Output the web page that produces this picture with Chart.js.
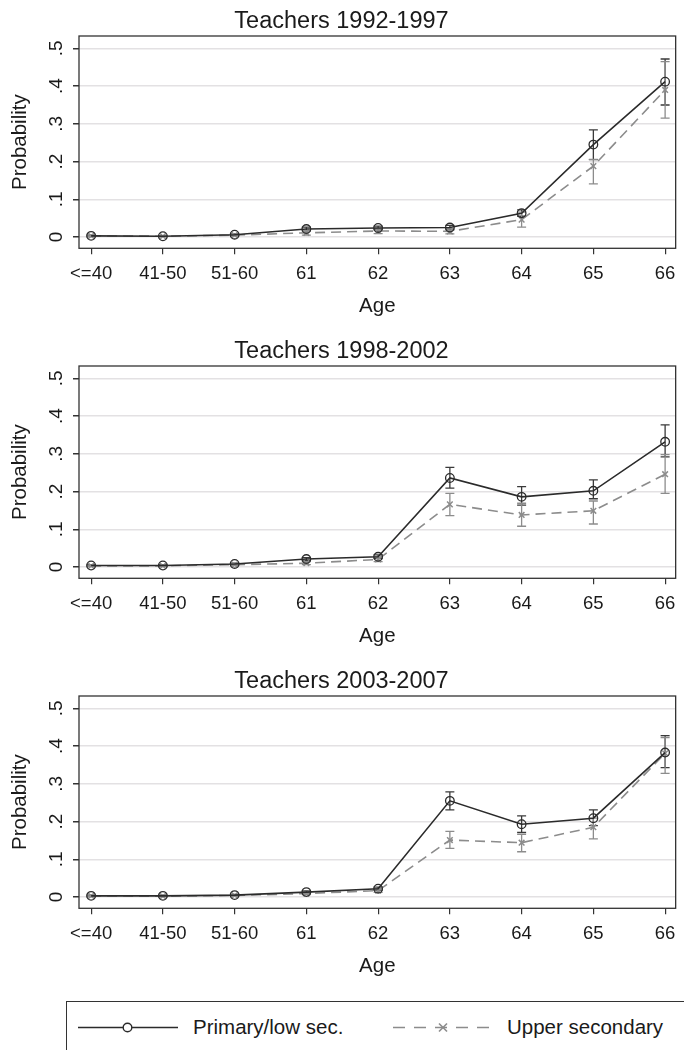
<!DOCTYPE html>
<html>
<head>
<meta charset="utf-8">
<script src="https://cdn.jsdelivr.net/npm/chart.js@4"></script>
<style>
  html, body { margin: 0; padding: 0; background: #fff; overflow: hidden; }
  body { width: 684px; height: 1050px; position: relative; font-family: "Liberation Sans", Arial, sans-serif; }
  .panel { position: absolute; left: 0; width: 684px; height: 330px; }
  #legend {
    position: absolute; left: 66px; top: 1001px; width: 680px; height: 70px;
    border-top: 1.6px solid #333; border-left: 1.6px solid #333; box-sizing: border-box;
  }
  #legend svg { position: absolute; left: 0; top: 0; }
  #legend span {
    position: absolute; top: 13px; font-size: 20.5px; line-height: 24px; color: #1a1a1a; white-space: nowrap;
  }
</style>
</head>
<body>
<canvas id="c1" class="panel" style="top:0px" width="684" height="330"></canvas>
<canvas id="c2" class="panel" style="top:330px" width="684" height="330"></canvas>
<canvas id="c3" class="panel" style="top:660px" width="684" height="330"></canvas>

<div id="legend">
  <svg width="620" height="60">
    <line x1="11" y1="25.5" x2="111" y2="25.5" stroke="#2b2b2b" stroke-width="1.7"/>
    <circle cx="60.5" cy="25.5" r="4.3" fill="#fff" stroke="#2b2b2b" stroke-width="1.4"/>
    <line x1="326" y1="25.5" x2="426" y2="25.5" stroke="#8c8c8c" stroke-width="1.7" stroke-dasharray="12,9"/>
    <line x1="372" y1="21.5" x2="380" y2="29.5" stroke="#8c8c8c" stroke-width="1.6"/>
    <line x1="372" y1="29.5" x2="380" y2="21.5" stroke="#8c8c8c" stroke-width="1.6"/>
  </svg>
  <span style="left:126px">Primary/low sec.</span>
  <span style="left:440px">Upper secondary</span>
</div>

<script>
// Age groups on the horizontal axis
const ageLabels = ['<=40', '41-50', '51-60', '61', '62', '63', '64', '65', '66'];
// Probability gridlines and their labels
const yTickValues = [0, 0.1, 0.2, 0.3, 0.4, 0.5];
const yTickLabels = ['0', '.1', '.2', '.3', '.4', '.5'];

// Teachers 1992-1997
const p1Primary   = [0.003, 0.002, 0.006, 0.021, 0.024, 0.025, 0.063, 0.245, 0.412];
const p1PrimaryLo = [0.001, 0.001, 0.004, 0.016, 0.019, 0.019, 0.055, 0.205, 0.350];
const p1PrimaryHi = [0.005, 0.003, 0.008, 0.026, 0.029, 0.031, 0.072, 0.284, 0.472];
const p1Upper     = [0.003, 0.002, 0.005, 0.011, 0.016, 0.015, 0.046, 0.188, 0.390];
const p1UpperLo   = [0.001, 0.001, 0.003, 0.005, 0.009, 0.008, 0.026, 0.141, 0.315];
const p1UpperHi   = [0.005, 0.003, 0.007, 0.017, 0.023, 0.022, 0.066, 0.206, 0.465];

// Teachers 1998-2002
const p2Primary   = [0.004, 0.004, 0.008, 0.021, 0.027, 0.236, 0.186, 0.202, 0.332];
const p2PrimaryLo = [0.002, 0.002, 0.006, 0.017, 0.022, 0.209, 0.164, 0.181, 0.292];
const p2PrimaryHi = [0.006, 0.006, 0.010, 0.025, 0.032, 0.264, 0.213, 0.231, 0.377];
const p2Upper     = [0.003, 0.003, 0.006, 0.010, 0.020, 0.166, 0.138, 0.149, 0.246];
const p2UpperLo   = [0.001, 0.001, 0.004, 0.006, 0.014, 0.136, 0.108, 0.114, 0.195];
const p2UpperHi   = [0.005, 0.005, 0.008, 0.014, 0.026, 0.195, 0.169, 0.175, 0.298];

// Teachers 2003-2007
const p3Primary   = [0.003, 0.003, 0.005, 0.013, 0.022, 0.255, 0.193, 0.209, 0.383];
const p3PrimaryLo = [0.001, 0.001, 0.003, 0.010, 0.018, 0.231, 0.171, 0.189, 0.343];
const p3PrimaryHi = [0.005, 0.005, 0.007, 0.016, 0.026, 0.279, 0.215, 0.231, 0.428];
const p3Upper     = [0.003, 0.002, 0.004, 0.009, 0.017, 0.151, 0.144, 0.185, 0.381];
const p3UpperLo   = [0.001, 0.001, 0.002, 0.006, 0.012, 0.129, 0.120, 0.154, 0.328];
const p3UpperHi   = [0.005, 0.003, 0.006, 0.012, 0.022, 0.174, 0.166, 0.209, 0.423];

const FONT = '"Liberation Sans", Arial, sans-serif';
const TEXT = '#1a1a1a';
const DARK = '#2b2b2b';
const GREY = '#8c8c8c';

// Vertical confidence intervals with caps, placed through the chart's scales
const errorBars = {
  id: 'errorBars',
  beforeDatasetsDraw(chart) {
    const { ctx, scales: { x, y } } = chart;
    ctx.save();
    chart.data.datasets.forEach(ds => {
      if (!ds.lo) return;
      ctx.strokeStyle = ds.errColor;
      ctx.lineWidth = 1.3;
      ds.lo.forEach((lo, i) => {
        const px = x.getPixelForValue(i);
        const y1 = y.getPixelForValue(lo);
        const y2 = y.getPixelForValue(ds.hi[i]);
        ctx.beginPath();
        ctx.moveTo(px, y1); ctx.lineTo(px, y2);
        ctx.moveTo(px - 4.5, y1); ctx.lineTo(px + 4.5, y1);
        ctx.moveTo(px - 4.5, y2); ctx.lineTo(px + 4.5, y2);
        ctx.stroke();
      });
    });
    ctx.restore();
  }
};

// Box around the plot region and rotated probability labels
const frameAndLabels = {
  id: 'frameAndLabels',
  afterDraw(chart) {
    const { ctx, chartArea: a, scales: { y } } = chart;
    ctx.save();
    ctx.strokeStyle = '#333';
    ctx.lineWidth = 1.3;
    ctx.strokeRect(a.left, a.top, a.right - a.left, a.bottom - a.top);
    ctx.fillStyle = TEXT;
    ctx.font = '19px ' + FONT;
    ctx.textAlign = 'center';
    ctx.textBaseline = 'middle';
    y.ticks.forEach(t => {
      const idx = yTickValues.indexOf(t.value);
      const py = y.getPixelForValue(t.value);
      ctx.save();
      ctx.translate(57, py);
      ctx.rotate(-Math.PI / 2);
      ctx.fillText(yTickLabels[idx], 0, 0);
      ctx.restore();
    });
    ctx.restore();
  }
};

function makePanel(id, title, prim, primLo, primHi, upp, uppLo, uppHi) {
  const pts = arr => arr.map((v, i) => ({ x: i, y: v }));
  return new Chart(document.getElementById(id), {
    type: 'line',
    data: {
      datasets: [
        {
          label: 'Primary/low sec.',
          data: pts(prim), lo: primLo, hi: primHi, errColor: '#3a3a3a',
          borderColor: DARK, borderWidth: 1.6, tension: 0,
          pointStyle: 'circle', pointRadius: 4.3, pointBorderWidth: 1.3,
          pointBorderColor: DARK, pointBackgroundColor: 'rgba(255,255,255,0)'
        },
        {
          label: 'Upper secondary',
          data: pts(upp), lo: uppLo, hi: uppHi, errColor: GREY,
          borderColor: GREY, borderWidth: 1.6, borderDash: [10, 6], tension: 0,
          pointStyle: 'crossRot', pointRadius: 4, pointBorderWidth: 1.5,
          pointBorderColor: GREY, pointBackgroundColor: GREY
        }
      ]
    },
    options: {
      responsive: false,
      animation: false,
      devicePixelRatio: 1,
      layout: { padding: { left: 0, right: 1, top: 0, bottom: 0 } },
      plugins: {
        legend: { display: false },
        tooltip: { enabled: false },
        title: {
          display: true, text: title, color: TEXT,
          font: { family: FONT, size: 23.5, weight: 'normal', lineHeight: 1.1 },
          padding: { top: 8.6, bottom: 1.55 }
        }
      },
      scales: {
        x: {
          type: 'linear', position: 'bottom', min: -0.169, max: 8.147,
          afterBuildTicks: s => { s.ticks = ageLabels.map((_, i) => ({ value: i })); },
          afterFit: s => { s.height = 81.7; },
          ticks: {
            autoSkip: false, maxRotation: 0, minRotation: 0, padding: 8.5,
            color: TEXT, font: { family: FONT, size: 18.5 },
            callback: v => ageLabels[v]
          },
          grid: { drawOnChartArea: false, color: '#333', lineWidth: 1.2, tickLength: 6 },
          border: { display: false },
          title: {
            display: true, text: 'Age', color: TEXT,
            font: { family: FONT, size: 20.5 }, padding: { top: 0, bottom: 11.7 }
          }
        },
        y: {
          type: 'linear', min: -0.03, max: 0.533,
          afterBuildTicks: s => { s.ticks = yTickValues.map(v => ({ value: v })); },
          afterFit: s => { s.width = 79; },
          ticks: { display: false },
          grid: { color: '#e3e1e3', lineWidth: 1.5, tickColor: '#333', tickLength: 6 },
          border: { display: false },
          title: {
            display: true, text: 'Probability', color: TEXT,
            font: { family: FONT, size: 20.5 }, padding: { top: 7.7, bottom: 0 }
          }
        }
      }
    },
    plugins: [errorBars, frameAndLabels]
  });
}

makePanel('c1', 'Teachers 1992-1997', p1Primary, p1PrimaryLo, p1PrimaryHi, p1Upper, p1UpperLo, p1UpperHi);
makePanel('c2', 'Teachers 1998-2002', p2Primary, p2PrimaryLo, p2PrimaryHi, p2Upper, p2UpperLo, p2UpperHi);
makePanel('c3', 'Teachers 2003-2007', p3Primary, p3PrimaryLo, p3PrimaryHi, p3Upper, p3UpperLo, p3UpperHi);
</script>
</body>
</html>
